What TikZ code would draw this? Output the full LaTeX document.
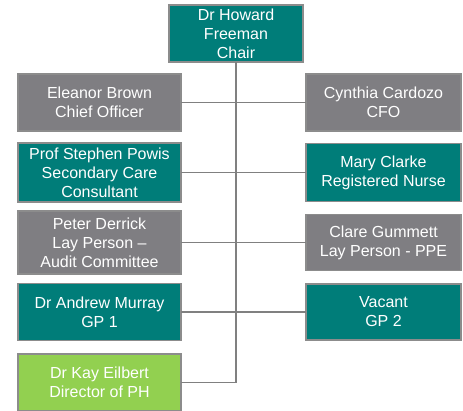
\documentclass[tikz,border=0pt]{standalone}
\usepackage{fontspec}
\setmainfont{Liberation Sans}
\definecolor{boardteal}{HTML}{007D79}
\definecolor{boardgrey}{HTML}{7F7E82}
\definecolor{boardgreen}{HTML}{92D050}
\definecolor{edgegrey}{HTML}{8C8C8C}
\definecolor{linkgrey}{HTML}{808080}
\tikzset{
  member/.style={draw=edgegrey, line width=1.5pt, text=white, align=center,
    font=\fontsize{16pt}{19pt}\selectfont, inner sep=0pt, outer sep=0pt},
  link/.style={draw=linkgrey, line width=1.8pt}
}
\begin{document}
\begin{tikzpicture}[x=1pt,y=-1pt]
      \def\leftx{99.5}
      \def\rightx{383.5}
      \useasboundingbox (0,0) rectangle (463,410);

      \node[member, fill=boardteal, minimum width=134pt, minimum height=57pt] (chair) at (236,33.5) {Dr Howard\\Freeman\\Chair};

      \node[member, fill=boardgrey, minimum width=163pt, minimum height=57pt] (eleanor) at (\leftx,102.5) {Eleanor Brown\\Chief Officer};
      \node[member, fill=boardgrey, minimum width=155pt, minimum height=57pt] (cynthia) at (\rightx,102.5) {Cynthia Cardozo\\CFO};

      \node[member, fill=boardteal, minimum width=163pt, minimum height=59pt] (stephen) at (\leftx,172.5) {Prof Stephen Powis\\Secondary Care\\Consultant};
      \node[member, fill=boardteal, minimum width=155pt, minimum height=58pt] (mary) at (\rightx,172.5) {Mary Clarke\\Registered Nurse};

      \node[member, fill=boardgrey, minimum width=163pt, minimum height=63pt] (peter) at (\leftx,242.5) {Peter Derrick\\Lay Person --\\Audit Committee};
      \node[member, fill=boardgrey, minimum width=155pt, minimum height=56pt] (clare) at (\rightx,242.5) {Clare Gummett\\Lay Person - PPE};

      \node[member, fill=boardteal, minimum width=163pt, minimum height=57pt] (andrew) at (\leftx,312) {Dr Andrew Murray\\GP 1};
      \node[member, fill=boardteal, minimum width=155pt, minimum height=56pt] (vacant) at (\rightx,312) {Vacant\\GP 2};

      \node[member, fill=boardgreen, minimum width=163pt, minimum height=57pt] (kay) at (\leftx,382.5) {Dr Kay Eilbert\\Director of PH};

      % connectors
      \draw[link] (kay.east) -| (chair.south);
      \draw[link] (eleanor.east) -- (cynthia.west);
      \draw[link] (stephen.east) -- (mary.west);
      \draw[link] (peter.east) -- (clare.west);
      \draw[link] (andrew.east) -- (vacant.west);
\end{tikzpicture}
\end{document}
